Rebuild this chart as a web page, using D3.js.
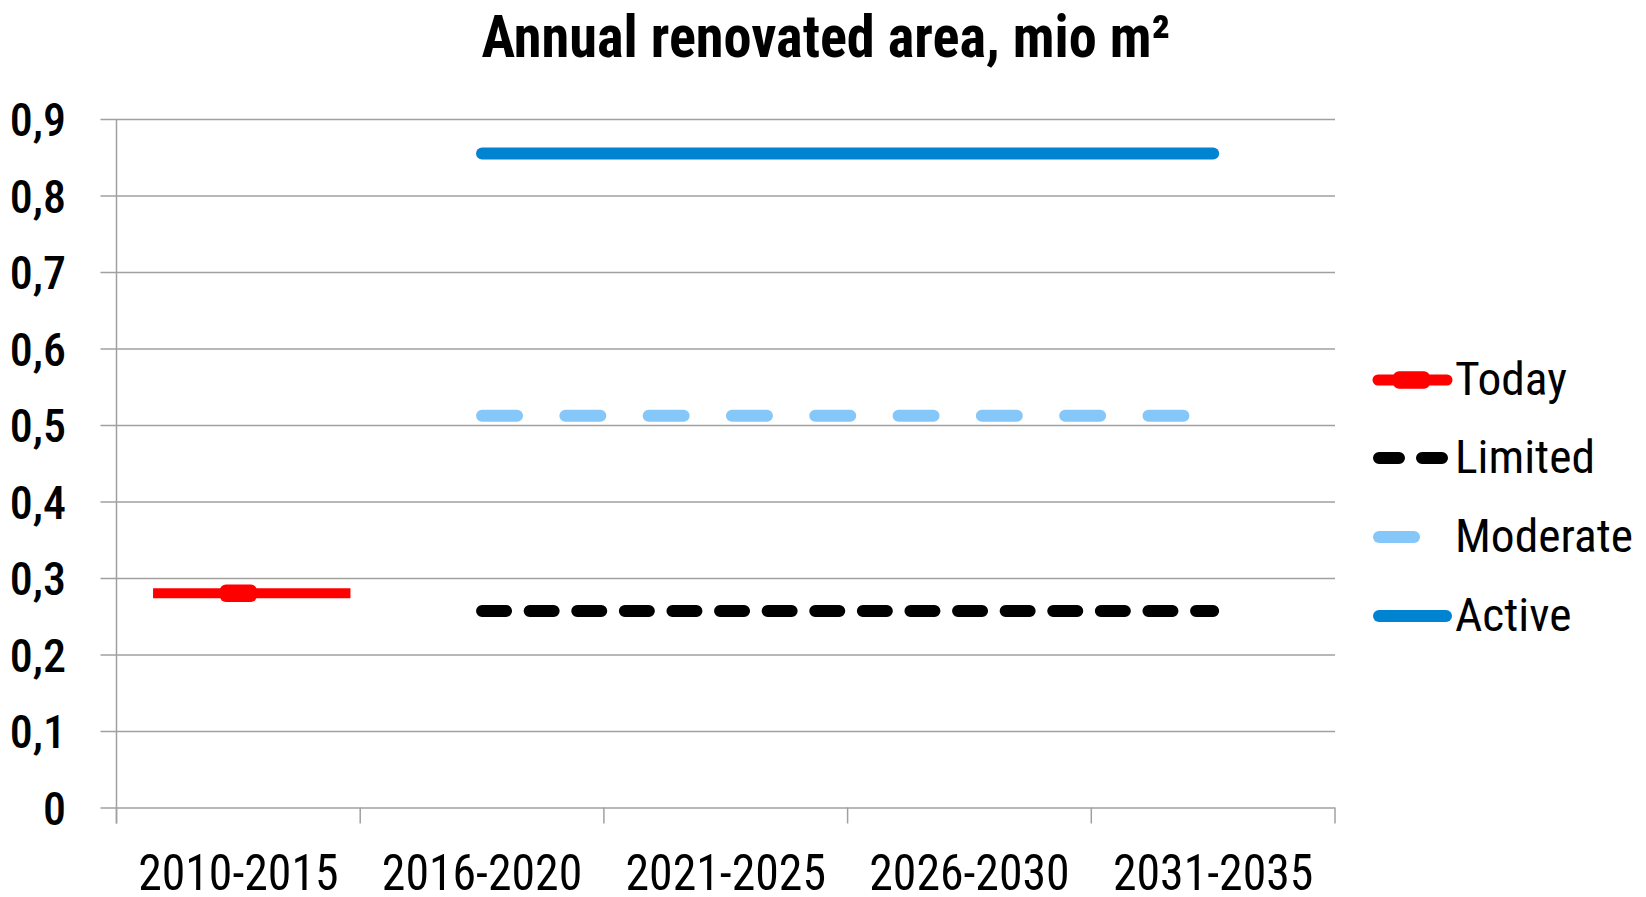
<!DOCTYPE html>
<html>
<head>
<meta charset="utf-8">
<script src="https://cdn.jsdelivr.net/npm/d3@7"></script>
<style>
  html, body { margin: 0; padding: 0; background: #fff; }
  text { font-family: "Roboto Condensed", Roboto, "Liberation Sans", sans-serif; fill: #000; }
</style>
</head>
<body>
<div id="chart"></div>
<script>
// chart values
const categories = ["2010-2015", "2016-2020", "2021-2025", "2026-2030", "2031-2035"];
const yTicks = [0, 0.1, 0.2, 0.3, 0.4, 0.5, 0.6, 0.7, 0.8, 0.9];
const todayValues = [0.28, null, null, null, null];
const todaySpan = [-0.35, 0.46];   // horizontal extent of the "Today" bar, in category units
const limitedValues = [null, 0.257, 0.257, 0.257, 0.257];
const moderateValues = [null, 0.512, 0.512, 0.512, 0.512];
const activeValues = [null, 0.855, 0.855, 0.855, 0.855];
const seriesNames = ["Today", "Limited", "Moderate", "Active"];

const width = 1646, height = 897;
const plotLeft = 116.5, plotRight = 1335, plotTop = 119, plotBottom = 807.5;

const svg = d3.select("#chart").append("svg")
    .attr("width", width)
    .attr("height", height);

// stretch/squeeze text horizontally to match the original widths
function condense(sel, f) {
    sel.each(function() {
        const len = this.getComputedTextLength();
        d3.select(this).attr("textLength", len * f).attr("lengthAdjust", "spacingAndGlyphs");
    });
}

const x = d3.scaleLinear().domain([-0.5, categories.length - 0.5]).range([plotLeft, plotRight]);
const y = d3.scaleLinear().domain([0, 0.9]).range([plotBottom, plotTop]);

// title
svg.append("text")
    .attr("x", 826).attr("y", 57)
    .attr("text-anchor", "middle")
    .attr("font-size", 59).attr("font-weight", 700)
    .text("Annual renovated area, mio m²")
    .call(condense, 0.955);

// gridlines + y axis
const yAxis = d3.axisLeft(y)
    .tickValues(yTicks)
    .tickSize(-(plotRight - plotLeft))
    .tickFormat(d => d === 0 ? "0" : d3.format(".1f")(d).replace(".", ","));
const gy = svg.append("g").attr("transform", `translate(${plotLeft},0)`).call(yAxis);
gy.select(".domain").remove();
gy.selectAll(".tick line")
    .attr("x1", -16)
    .attr("stroke", "#a0a0a0").attr("stroke-width", 1.5);
gy.selectAll(".tick text")
    .attr("x", 66 - plotLeft).attr("dy", "0.36em")
    .attr("font-size", 46).attr("font-weight", 500)
    .attr("font-family", "Roboto, sans-serif")
    .call(condense, 1.0);

// vertical axis line
svg.append("line")
    .attr("x1", plotLeft).attr("x2", plotLeft)
    .attr("y1", plotTop).attr("y2", plotBottom + 16)
    .attr("stroke", "#a0a0a0").attr("stroke-width", 1.5);

// category boundary ticks and labels
const bounds = d3.range(categories.length + 1).map(i => i - 0.5);
svg.selectAll(".xtick").data(bounds).enter().append("line")
    .attr("x1", d => x(d)).attr("x2", d => x(d))
    .attr("y1", plotBottom).attr("y2", plotBottom + 16)
    .attr("stroke", "#a0a0a0").attr("stroke-width", 1.5);

svg.selectAll(".xlabel").data(categories).enter().append("text")
    .attr("x", (d, i) => x(i)).attr("y", 890)
    .attr("text-anchor", "middle")
    .attr("font-size", 50)
    .text(d => d)
    .call(condense, 0.955);

// series lines
const line = d3.line()
    .defined(d => d.v != null)
    .x(d => x(d.i))
    .y(d => y(d.v));
const toPts = arr => arr.map((v, i) => ({ i: i, v: v }));

svg.append("path").datum(toPts(activeValues))
    .attr("d", line).attr("fill", "none")
    .attr("stroke", "#0083d0").attr("stroke-width", 12).attr("stroke-linecap", "round");

svg.append("path").datum(toPts(moderateValues))
    .attr("d", line).attr("fill", "none")
    .attr("stroke", "#86c7f9").attr("stroke-width", 12).attr("stroke-linecap", "round")
    .attr("stroke-dasharray", "35 48.3");

svg.append("path").datum(toPts(limitedValues))
    .attr("d", line).attr("fill", "none")
    .attr("stroke", "#000").attr("stroke-width", 12).attr("stroke-linecap", "round")
    .attr("stroke-dasharray", "24 23.6");

// today: single point with a horizontal bar and a dash marker
todayValues.forEach((v, i) => {
    if (v == null) return;
    svg.append("line")
        .attr("x1", x(i + todaySpan[0])).attr("x2", x(i + todaySpan[1]))
        .attr("y1", y(v)).attr("y2", y(v))
        .attr("stroke", "#ff0000").attr("stroke-width", 10);
    svg.append("rect")
        .attr("x", x(i) - 18.5).attr("y", y(v) - 8.7)
        .attr("width", 37).attr("height", 17.4)
        .attr("rx", 6)
        .attr("fill", "#ff0000");
});

// legend
const legendY = [380, 458, 537, 616];
const lg = svg.append("g");
const lx0 = 1373, lx1 = 1452;

lg.append("line")
    .attr("x1", lx0 + 5).attr("x2", lx1 - 5).attr("y1", legendY[0]).attr("y2", legendY[0])
    .attr("stroke", "#ff0000").attr("stroke-width", 11).attr("stroke-linecap", "round");
lg.append("rect")
    .attr("x", 1393).attr("y", legendY[0] - 8.7)
    .attr("width", 37).attr("height", 17.4).attr("rx", 6)
    .attr("fill", "#ff0000");

lg.append("line")
    .attr("x1", lx0 + 6).attr("x2", lx1 - 6).attr("y1", legendY[1]).attr("y2", legendY[1])
    .attr("stroke", "#000").attr("stroke-width", 12).attr("stroke-linecap", "round")
    .attr("stroke-dasharray", "20 23");

lg.append("line")
    .attr("x1", lx0 + 6).attr("x2", 1414).attr("y1", legendY[2]).attr("y2", legendY[2])
    .attr("stroke", "#86c7f9").attr("stroke-width", 12).attr("stroke-linecap", "round");

lg.append("line")
    .attr("x1", lx0 + 6).attr("x2", lx1 - 6).attr("y1", legendY[3]).attr("y2", legendY[3])
    .attr("stroke", "#0083d0").attr("stroke-width", 12).attr("stroke-linecap", "round");

lg.selectAll("text").data(seriesNames).enter().append("text")
    .attr("x", 1455).attr("y", (d, i) => legendY[i] + 15)
    .attr("font-size", 47)
    .text(d => d)
    .call(condense, 1.01);
</script>
</body>
</html>
